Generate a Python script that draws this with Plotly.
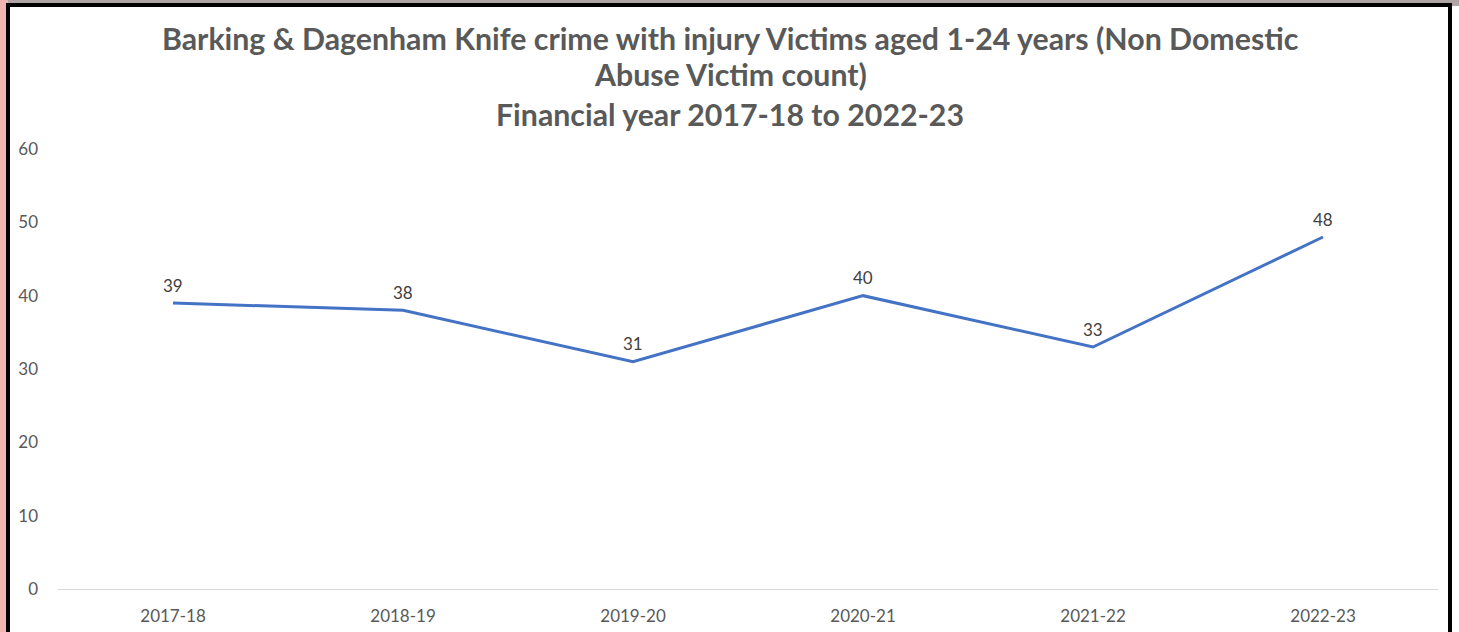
import plotly.graph_objects as go

years = ["2017-18", "2018-19", "2019-20", "2020-21", "2021-22", "2022-23"]
victims = [39, 38, 31, 40, 33, 48]
y_ticks = [0, 10, 20, 30, 40, 50, 60]

title_lines = ["Barking & Dagenham Knife crime with injury Victims aged 1-24 years (Non Domestic",
               "Abuse Victim count)",
               "Financial year 2017-18 to 2022-23"]

W, H = 1459, 632
ml, mr, mt, mb = 58, 21, 149, 43
pw, ph = W - ml - mr, H - mt - mb
FONT = "Lato, Open Sans, sans-serif"

def px_x(p):
    return (p - ml) / pw

def px_y(p):
    return (H - mb - p) / ph

fig = go.Figure()
fig.add_trace(go.Scatter(
    x=years, y=victims, mode="lines",
    line=dict(color="#4472C4", width=3),
    hoverinfo="skip"))

# data labels
for xv, yv in zip(years, victims):
    fig.add_annotation(x=xv, y=yv, xref="x", yref="y", text=str(yv), showarrow=False,
                       yshift=18, yanchor="middle",
                       font=dict(family=FONT, size=17, color="#404040"))

# background decorations and chart frame
fig.add_shape(type="rect", xref="paper", yref="paper",
              x0=px_x(0), x1=px_x(8), y0=px_y(640), y1=px_y(0),
              line=dict(width=0), fillcolor="#f2b4b2", layer="below")
fig.add_shape(type="rect", xref="paper", yref="paper",
              x0=px_x(8), x1=px_x(1459), y0=px_y(6), y1=px_y(0),
              line=dict(width=0), fillcolor="#b0a4a4", layer="below")
fig.add_shape(type="rect", xref="paper", yref="paper",
              x0=px_x(8), x1=px_x(1450), y0=px_y(660), y1=px_y(5),
              line=dict(color="black", width=4), fillcolor="white", layer="below")

# title lines
for txt, cy in zip(title_lines, [38, 74, 114]):
    fig.add_annotation(x=px_x(730), y=px_y(cy), xref="paper", yref="paper", text=txt,
                       showarrow=False, xanchor="center", yanchor="middle",
                       font=dict(family=FONT, size=30.3, color="#595959", weight="bold"))

fig.update_layout(
    width=W, height=H,
    margin=dict(l=ml, r=mr, t=mt, b=mb, autoexpand=False),
    paper_bgcolor="white", plot_bgcolor="white",
    showlegend=False,
    font=dict(family=FONT, color="#595959"),
)
fig.update_xaxes(type="category", range=[-0.5, 5.5], showgrid=False, showline=True,
                 linecolor="#d9d9d9", linewidth=1, automargin=False,
                 ticks="", tickfont=dict(size=17, color="#595959"), ticklabelstandoff=12,
                 zeroline=False)
fig.update_yaxes(range=[0, 60], tickvals=y_ticks, showgrid=False, zeroline=False, showline=False,
                 automargin=False,
                 ticks="", tickfont=dict(size=17, color="#595959"), ticklabelstandoff=19)

fig.write_html("out.html")
